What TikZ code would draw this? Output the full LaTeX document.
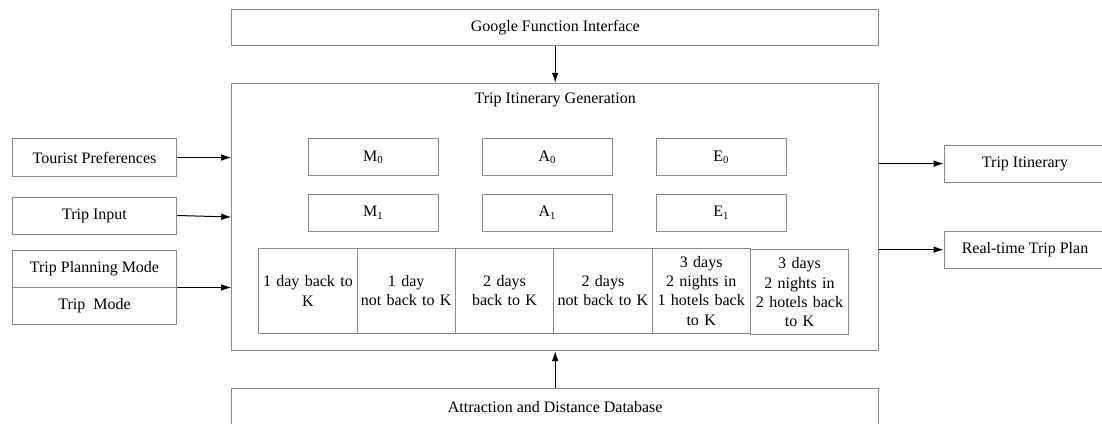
\documentclass[tikz,border=0pt]{standalone}
\usepackage{fontspec}
\setmainfont{Liberation Serif}
\newfontfamily\diagfont{Liberation Serif}
\usetikzlibrary{arrows.meta,calc}
\definecolor{boxgray}{HTML}{8A8A8A}
\begin{document}
\begin{tikzpicture}[x=0.75pt,y=-0.75pt,
  every node/.style={font=\diagfont\fontsize{12}{14.5}\selectfont, inner sep=0pt},
  box/.style={draw=boxgray, line width=0.75pt, rectangle, align=center},
  widebox/.style={box, minimum width=485.25pt, minimum height=27.5pt},
  sidebox/.style={box, minimum width=123.3pt, minimum height=27.75pt},
  outbox/.style={box, minimum width=121.5pt, minimum height=27.75pt},
  stagebox/.style={box, minimum width=97.5pt, minimum height=27.5pt},
  cellbox/.style={box, minimum width=73.75pt, minimum height=63.75pt, text width=72pt},
  arr/.style={draw=black, line width=0.75pt, -{Latex[length=7.5pt,width=5pt]}}]
\useasboundingbox (0,0) rectangle (1102,424);
% main frame
\node[box, minimum width=485.25pt, minimum height=200.55pt] (main) at (555.2,217) {};
\node (title) at (555.2,100) {Trip Itinerary Generation};
% top and bottom
\node[widebox] (google) at (555.2,27.65) {Google Function Interface};
\node[widebox, minimum height=28.5pt] (db) at (555.2,407.3) {Attraction and Distance Database};
% left inputs
\node[sidebox] (pref) at (94.5,157.5) {Tourist Preferences};
\node[sidebox] (input) at (94.5,215.5) {Trip Input};
\node[sidebox] (plan) at (94.5,268.5) {Trip Planning Mode};
\node[sidebox] (mode) at (94.5,305.5) {Trip\ \ Mode};
% right outputs
\node[outbox] (itin) at (1025,163.65) {Trip Itinerary};
\node[outbox] (rt) at (1025,249.65) {Real-time Trip Plan};
% stage boxes
\node[stagebox] (M0) at (373.3,157.3) {M\textsubscript{0}};
\node[stagebox] (A0) at (547.3,157.3) {A\textsubscript{0}};
\node[stagebox] (E0) at (721.3,157.3) {E\textsubscript{0}};
\node[stagebox] (M1) at (373.3,212.7) {M\textsubscript{1}};
\node[stagebox] (A1) at (547.3,212.7) {A\textsubscript{1}};
\node[stagebox] (E1) at (721.3,212.7) {E\textsubscript{1}};
% mode table
\node[cellbox] (c1) at (307.9,290.8) {1 day back to\\K};
\node[cellbox] (c2) at (406.2,290.8) {1 day\\not back to K};
\node[cellbox] (c3) at (504.5,290.8) {2 days\\back to K};
\node[cellbox] (c4) at (602.9,290.8) {2 days\\not back to K};
\node[cellbox] (c5) at (701.2,290.8) {3 days\\2 nights in\\1 hotels back\\to K};
\node[cellbox] (c6) at (799.5,292.3) {3 days\\2 nights in\\2 hotels back\\to K};
% connectors
\draw[arr] (google.south) -- (main.north);
\draw[arr] (db.north) -- (main.south);
\draw[arr] (pref.east) -- (main.west |- pref.east);
\draw[arr] (input.east) -- ($(main.west |- input.east)+(0,1.5)$);
\draw[arr] (plan.south east) -- (main.west |- plan.south east);
\draw[arr] (main.east |- itin.west) -- (itin.west);
\draw[arr] (main.east |- rt.west) -- (rt.west);
\end{tikzpicture}
\end{document}
